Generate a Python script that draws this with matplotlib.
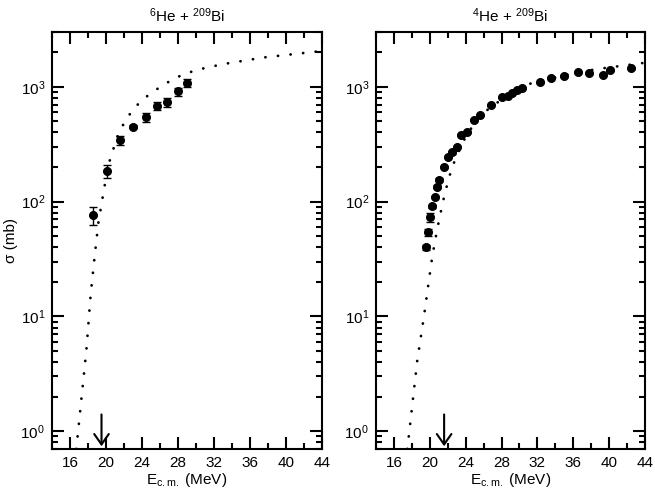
import numpy as np
import matplotlib
matplotlib.use('Agg')
import matplotlib.pyplot as plt
from matplotlib.ticker import LogLocator, MultipleLocator

plt.rcParams['font.family'] = ['Liberation Sans', 'DejaVu Sans']
plt.rcParams['mathtext.fontset'] = 'custom'
plt.rcParams['mathtext.rm'] = 'Liberation Sans'
plt.rcParams['mathtext.it'] = 'Liberation Sans:italic'
plt.rcParams['mathtext.bf'] = 'Liberation Sans:bold'
plt.rcParams['font.size'] = 11

# 6He + 209Bi
e_6he = [18.6, 20.1, 21.6, 22.95, 24.4, 25.7, 26.8, 28.0, 29.0]
sig_6he = [76, 184, 344, 449, 543, 681, 733, 910, 1083]
err_6he = [13, 25, 30, 12, 47, 57, 68, 73, 83]
fit_6he_e = [16.7, 17.37, 17.82, 18.3, 18.75, 19.16, 19.7, 20.24, 20.77, 21.3,
             21.95, 22.77, 23.8, 25.0, 26.4, 27.8, 30.0, 33.0, 37.5, 44.0]
fit_6he_s = [0.7, 2.3, 5.1, 15.7, 34, 66, 118, 205, 280, 375,
             474, 598, 741, 881, 1041, 1205, 1400, 1575, 1800, 2050]
barrier_6he = 19.5

# 4He + 209Bi
e_4he = [19.57, 19.83, 20.05, 20.27, 20.54, 20.80, 21.02, 21.55, 22.03, 22.51,
         23.0, 23.51, 24.18, 24.96, 25.56, 26.83, 28.0, 28.7, 29.2, 29.76,
         30.32, 32.33, 33.52, 34.97, 36.57, 37.8, 39.29, 40.14, 42.45]
sig_4he = [40, 54, 73, 91, 110, 135, 155, 201, 246, 268,
           301, 377, 401, 513, 571, 697, 807, 838, 875, 933,
           980, 1090, 1197, 1247, 1332, 1324, 1279, 1405, 1443]
err_4he = [2, 4, 6, 3, 3, 4, 4, 5, 6, 6,
           7, 8, 9, 10, 11, 13, 15, 15, 16, 17,
           18, 20, 22, 22, 24, 24, 23, 25, 26]
fit_4he_e = [17.5, 18.6, 19.35, 20.27, 20.8, 21.47, 22.03, 22.5, 23.4, 24.15,
             25.4, 26.2, 27.4, 29.0, 31.0, 35.64, 38.6, 44.0]
fit_4he_s = [0.7, 4.1, 10, 33, 56, 100, 150, 200, 295, 385,
             530, 610, 716, 880, 1055, 1290, 1425, 1620]
barrier_4he = 21.6

titles = [r'$^{6}$He + $^{209}$Bi', r'$^{4}$He + $^{209}$Bi']

fig = plt.figure(figsize=(6.55, 4.93), dpi=100)
ax1 = fig.add_axes([0.0794, 0.0892, 0.4122, 0.8459])
ax2 = fig.add_axes([0.574, 0.0892, 0.4107, 0.8459])

panels = [(ax1, e_6he, sig_6he, err_6he, fit_6he_e, fit_6he_s, barrier_6he),
          (ax2, e_4he, sig_4he, err_4he, fit_4he_e, fit_4he_s, barrier_4he)]

for i, (ax, e, s, err, fe, fs, vb) in enumerate(panels):
    ax.plot(fe, fs, color='black', lw=2, linestyle=(0, (0.05, 4.5)),
            dash_capstyle='round')
    ax.errorbar(e, s, yerr=err, fmt='o', color='black', ms=5.5,
                elinewidth=1, capsize=3, capthick=1)
    ax.annotate('', xy=(vb, 0.74), xytext=(vb, 1.4),
                arrowprops=dict(arrowstyle='->,head_length=0.5,head_width=0.35',
                                lw=1.5, color='black', mutation_scale=15,
                                shrinkA=0, shrinkB=0))
    ax.set_yscale('log')
    ax.set_xlim(14, 44)
    ax.set_ylim(0.7, 3000)
    ax.xaxis.set_major_locator(MultipleLocator(4))
    ax.xaxis.set_minor_locator(MultipleLocator(2))
    ax.yaxis.set_major_locator(LogLocator(base=10))
    ax.yaxis.set_minor_locator(LogLocator(base=10, subs=np.arange(2, 10)))
    ax.tick_params(which='both', direction='in', top=True, right=True,
                   width=1.5, labelsize=11)
    ax.tick_params(which='major', length=8.5, pad=5)
    ax.tick_params(which='minor', length=4.5)
    for sp in ax.spines.values():
        sp.set_linewidth(1.5)
    ax.set_title(titles[i], fontsize=11, pad=7)
    ax.set_xlabel(r'E$_{\mathregular{c.m.}}$ (MeV)', fontsize=11, labelpad=1)

ax1.set_ylabel('σ (mb)', fontsize=11, labelpad=2)

plt.savefig('out.png', dpi=100)
